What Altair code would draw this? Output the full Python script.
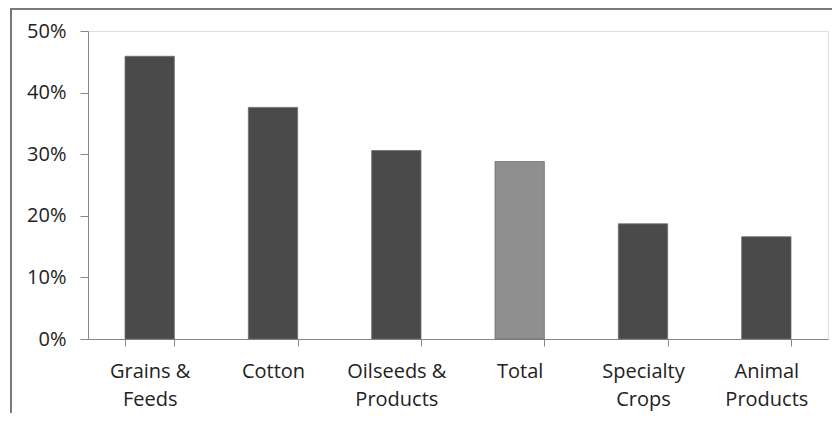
import altair as alt
import pandas as pd

categories = ["Grains &\nFeeds", "Cotton", "Oilseeds &\nProducts", "Total", "Specialty\nCrops", "Animal\nProducts"]
shares = [0.459, 0.376, 0.306, 0.288, 0.187, 0.166]
y_ticks = [0.0, 0.1, 0.2, 0.3, 0.4, 0.5]

df = pd.DataFrame({"category": categories, "share": shares})

W, H = 740, 308

frame = alt.Chart(pd.DataFrame({"a": [0]})).mark_rect(
    fill="transparent", stroke="#7a7a7a", strokeWidth=2
).encode(
    x=alt.value(-77), x2=alt.value(1000), y=alt.value(-22), y2=alt.value(1000)
)

bars = alt.Chart(df).mark_bar(stroke="#6e6e6e", strokeWidth=0.8).encode(
    x=alt.X("category:N", sort=None, title=None,
            scale=alt.Scale(paddingInner=0.6, paddingOuter=0.3),
            axis=alt.Axis(labelAngle=0, tickBand="extent", labelExpr="split(datum.label, '\\n')",
                          labelFont="Open Sans", labelFontSize=20, labelColor="#222222",
                          labelLineHeight=28, labelPadding=15, tickSize=7,
                          domainColor="#888888", tickColor="#888888", grid=False)),
    y=alt.Y("share:Q", title=None,
            scale=alt.Scale(domain=[0, 0.5], nice=False),
            axis=alt.Axis(values=y_ticks, format=".0%", labelFont="Open Sans", labelFontSize=20,
                          labelColor="#222222", labelPadding=14, tickSize=8,
                          domainColor="#888888", tickColor="#888888", grid=False)),
    color=alt.condition(alt.datum.category == "Total", alt.value("#8f8f8f"), alt.value("#4a4a4a")),
)

chart = alt.layer(frame, bars).properties(
    width=W, height=H,
    autosize=alt.AutoSizeParams(type="none"),
    padding={"left": 80, "top": 23, "right": 4, "bottom": 74},
).configure_view(stroke=None).configure(background="white")

chart.save("out.html", embed_options={"renderer": "svg", "actions": False})
